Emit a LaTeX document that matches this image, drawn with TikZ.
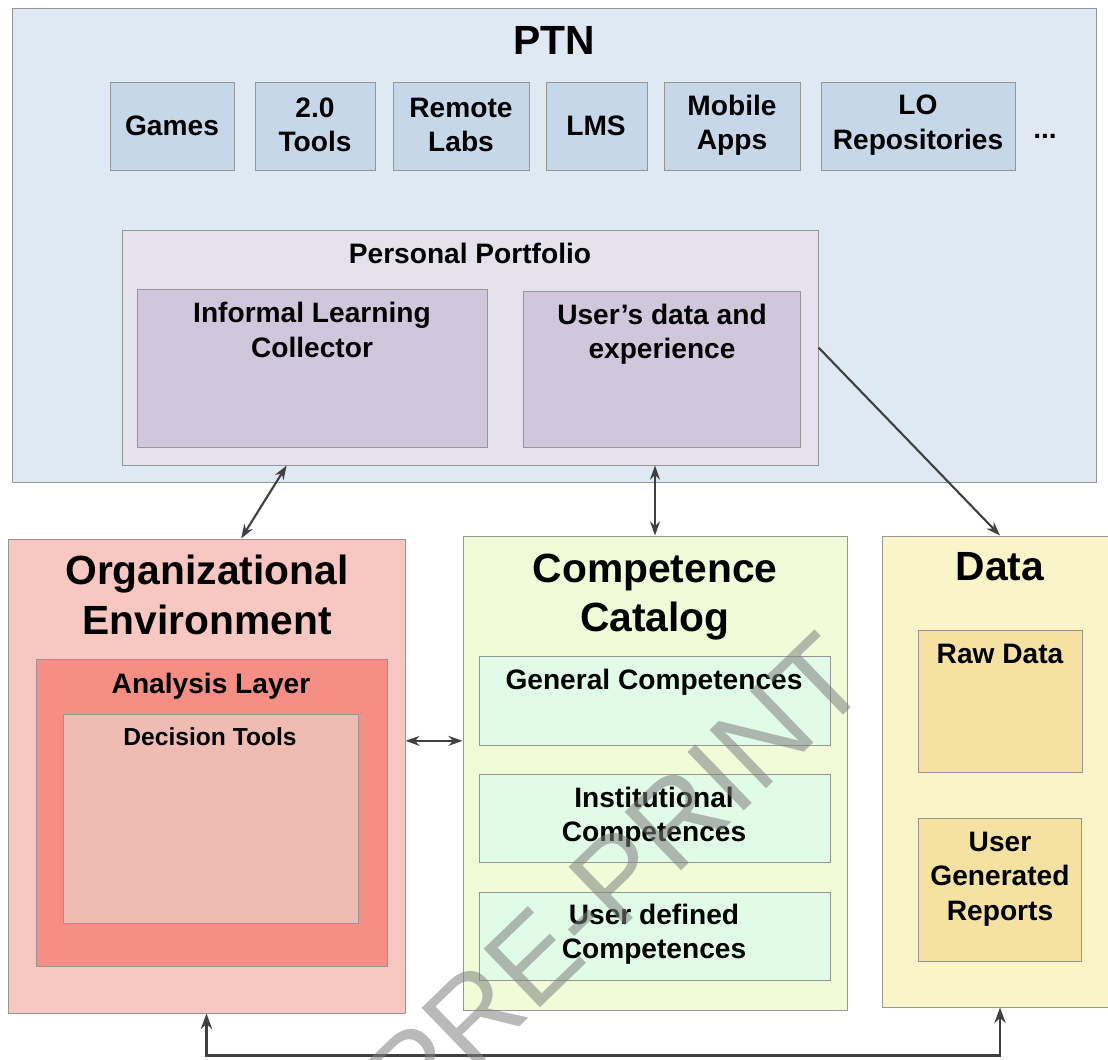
\documentclass[tikz,border=0pt]{standalone}
\usepackage{fontspec}
\setmainfont{Liberation Sans}
\usetikzlibrary{arrows.meta,fit,calc}

\definecolor{ptnfill}{RGB}{223,233,243}
\definecolor{toolfill}{RGB}{197,215,233}
\definecolor{portfill}{RGB}{229,225,237}
\definecolor{portin}{RGB}{208,199,221}
\definecolor{orgfill}{RGB}{249,199,193}
\definecolor{layerfill}{RGB}{245,143,133}
\definecolor{decfill}{RGB}{239,188,180}
\definecolor{catfill}{RGB}{242,251,216}
\definecolor{compfill}{RGB}{224,252,230}
\definecolor{datafill}{RGB}{250,244,201}
\definecolor{rawfill}{RGB}{245,226,162}
\definecolor{frame}{RGB}{150,150,150}
\definecolor{conn}{RGB}{64,64,64}

\tikzset{
  box/.style={draw=frame, line width=0.7pt, inner sep=0pt},
  bigtext/.style={font=\bfseries\fontsize{29}{35}\selectfont, align=center},
  midtext/.style={font=\bfseries\fontsize{20}{24.5}\selectfont, align=center},
  smalltext/.style={font=\bfseries\fontsize{17.5}{21}\selectfont, align=center},
  link/.style={draw=conn, line width=1.5pt,
    {Stealth[open,length=10pt,width=7pt]}-{Stealth[open,length=10pt,width=7pt]}},
  onelink/.style={draw=conn, line width=1.5pt, -{Stealth[open,length=10pt,width=7pt]}},
  busline/.style={draw=conn, line width=2pt,
    {Stealth[length=11pt,width=8pt]}-{Stealth[length=11pt,width=8pt]}},
  watermark/.style={font=\fontsize{84}{84}\selectfont, text=black!50, text opacity=0.55, rotate=44}
}

\begin{document}
\begin{tikzpicture}[x=0.025cm, y=-0.025cm]
  \useasboundingbox (0,0) rectangle (1108,1059);

  % PTN layer with its tools
  \node[box, fill=ptnfill, fit={(12,8) (1096,482)}] (ptn) {};
  \node[bigtext] (ptntitle) at (554,40) {PTN};
  \node[box, fill=toolfill, fit={(110,82) (234,170)}] (games) {};
  \node[box, fill=toolfill, fit={(255,82) (375,170)}] (tools) {};
  \node[box, fill=toolfill, fit={(393,82) (529,170)}] (labs) {};
  \node[box, fill=toolfill, fit={(546,82) (647,170)}] (lms) {};
  \node[box, fill=toolfill, fit={(664,82) (800,170)}] (apps) {};
  \node[box, fill=toolfill, fit={(821,82) (1015,170)}] (repos) {};
  \node[midtext] (gamestext) at (172,126) {Games};
  \node[midtext] (toolstext) at (315,125) {2.0\\Tools};
  \node[midtext] (labstext) at (461,125) {Remote\\Labs};
  \node[midtext] (lmstext) at (596,126) {LMS};
  \node[midtext] (appstext) at (732,125) {Mobile\\Apps};
  \node[midtext] (repostext) at (918,125) {LO\\Repositories};
  \node[midtext] (more) at (1045,136) {...};

  % personal portfolio
  \node[box, fill=portfill, fit={(122,230) (818,465)}] (port) {};
  \node[midtext] (porttitle) at (470,253) {Personal Portfolio};
  \node[box, fill=portin, fit={(137,289) (487,447)}] (ilc) {};
  \node[midtext] (ilctext) at (312,330) {Informal Learning\\Collector};
  \node[box, fill=portin, fit={(523,291) (800,447)}] (usr) {};
  \node[midtext] (usrtext) at (662,334) {User’s data and\\experience};

  % organizational environment
  \node[box, fill=orgfill, fit={(8,539) (405,1013)}] (org) {};
  \node[bigtext] (orgtitle) at (207,595) {Organizational\\Environment};
  \node[box, fill=layerfill, fit={(36,659) (387,966)}] (layer) {};
  \node[midtext] (layertext) at (211,686) {Analysis Layer};
  \node[box, fill=decfill, fit={(63,714) (358,923)}] (dec) {};
  \node[smalltext] (dectext) at (210,737) {Decision Tools};

  % competence catalog
  \node[box, fill=catfill, fit={(463,536) (847,1010)}] (cat) {};
  \node[bigtext] (cattitle) at (655,597) {Competence\\Catalog};
  \node[box, fill=compfill, fit={(479,656) (830,745)}] (gen) {};
  \node[midtext] (gentext) at (654,682) {General Competences};
  \node[box, fill=compfill, fit={(479,774) (830,862)}] (inst) {};
  \node[midtext] (insttext) at (654,817) {Institutional\\Competences};
  \node[box, fill=compfill, fit={(479,892) (830,980)}] (udef) {};
  \node[midtext] (udeftext) at (654,934) {User defined\\Competences};

  % data
  \node[box, fill=datafill, fit={(882,536) (1114,1007)}] (data) {};
  \node[bigtext] (datatitle) at (1000,567) {Data};
  \node[box, fill=rawfill, fit={(918,630) (1082,772)}] (raw) {};
  \node[midtext] (rawtext) at (1000,654) {Raw Data};
  \node[box, fill=rawfill, fit={(918,818) (1081,961)}] (rep) {};
  \node[midtext] (reptext) at (1000,879) {User\\Generated\\Reports};

  % connectors
  \coordinate (ilcfoot) at ($(port.south west)!0.237!(port.south east)$);
  \coordinate (orgtop) at ($(org.north west)!0.587!(org.north east)$);
  \coordinate (orgside) at ($(org.north east)!0.426!(org.south east)$);
  \draw[link] (ilcfoot) -- (orgtop);
  \draw[link] (cat.north |- port.south) -- (cat.north);
  \draw[onelink] (port.east) -- (raw.north |- data.north);
  \draw[link] (orgside) -- (orgside -| cat.west);
  \draw[busline] (org.south) -- ++(0,42) -| (raw.south |- data.south);

  \node[watermark] (preprint) at (616,878) {PRE-PRINT};
\end{tikzpicture}
\end{document}
